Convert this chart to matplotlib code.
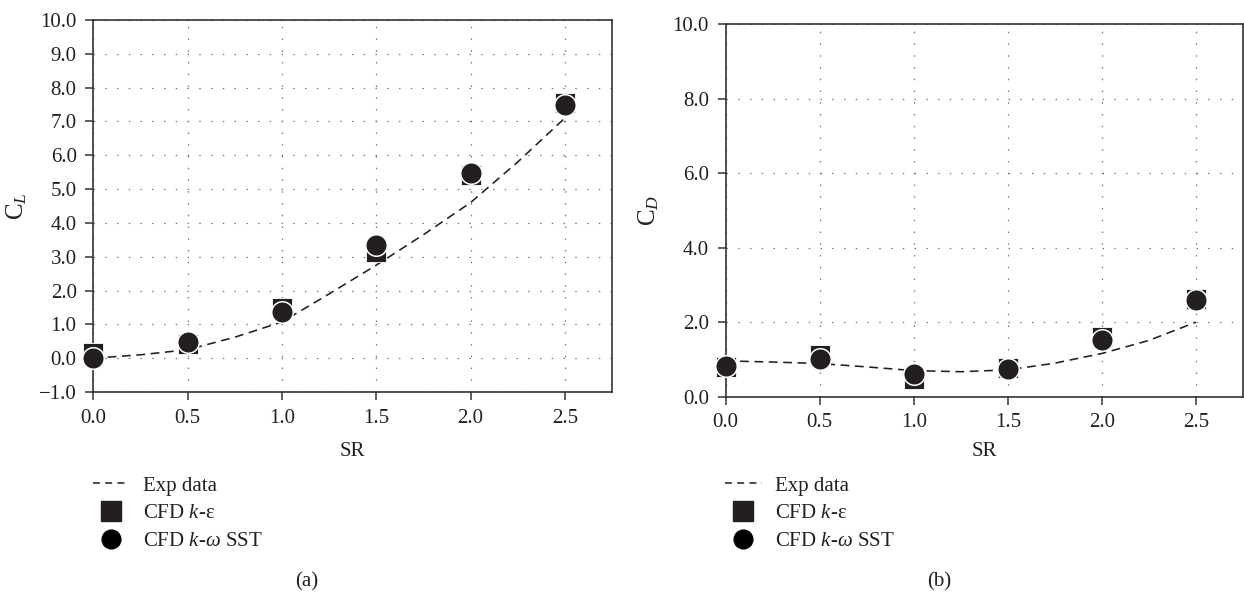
import matplotlib
matplotlib.use("Agg")
import matplotlib.pyplot as plt
from matplotlib.lines import Line2D
import numpy as np

plt.rcParams['font.family'] = ['Liberation Serif', 'DejaVu Serif']
plt.rcParams['mathtext.fontset'] = 'custom'
plt.rcParams['mathtext.rm'] = 'Liberation Serif'
plt.rcParams['mathtext.it'] = 'Liberation Serif:italic'
plt.rcParams['mathtext.bf'] = 'Liberation Serif:bold'

# ---------------- data ----------------
sr_points = [0.0, 0.5, 1.0, 1.5, 2.0, 2.5]
sr_exp = [0.0, 0.25, 0.5, 0.75, 1.0, 1.25, 1.5, 1.75, 2.0, 2.25, 2.5]

cl_exp = [0.0, 0.1, 0.25, 0.62, 1.07, 1.9, 2.75, 3.65, 4.6, 5.8, 7.1]
cl_ke = [0.15, 0.42, 1.48, 3.15, 5.42, 7.55]
cl_kw = [0.0, 0.47, 1.38, 3.35, 5.47, 7.5]

cd_exp = [0.96, 0.93, 0.89, 0.80, 0.70, 0.67, 0.72, 0.90, 1.16, 1.51, 2.0]
cd_ke = [0.80, 1.13, 0.48, 0.77, 1.60, 2.63]
cd_kw = [0.82, 1.00, 0.62, 0.75, 1.53, 2.59]

x_ticks = [0.0, 0.5, 1.0, 1.5, 2.0, 2.5]
cl_ticks = [-1, 0, 1, 2, 3, 4, 5, 6, 7, 8, 9, 10]
cd_ticks = [0, 2, 4, 6, 8, 10]

labels = ["Exp data", r"CFD $k$-ε", r"CFD $k$-$\omega$ SST"]
ylabels = [r"C$_{L}$", r"C$_{D}$"]
captions = ["(a)", "(b)"]

# ---------------- figure ----------------
W, H = 1244, 596
fig = plt.figure(figsize=(W / 100, H / 100), dpi=100)

dark = '#231f20'
FS = 15


def fx(px):
    return px / W


def fy(py):
    return 1 - py / H


axes_px = [(93.3, 20.0, 612.0, 392.0), (725.7, 24.0, 1243.0, 396.7)]
ylims = [(-1, 10), (0, 10)]
yticks_list = [cl_ticks, cd_ticks]
exp_list = [cl_exp, cd_exp]
ke_list = [cl_ke, cd_ke]
kw_list = [cl_kw, cd_kw]

for i in range(2):
    x0, y0, x1, y1 = axes_px[i]
    ax = fig.add_axes([fx(x0), fy(y1), (x1 - x0) / W, (y1 - y0) / H])
    ax.set_xlim(0, 2.75)
    ax.set_ylim(*ylims[i])
    ax.set_xticks(x_ticks)
    ax.set_xticklabels([f"{v:.1f}" for v in x_ticks])
    ax.set_yticks(yticks_list[i])
    ax.set_yticklabels([f"{v:.1f}".replace('-', '\u2212') for v in yticks_list[i]])
    ax.tick_params(axis='both', direction='out', length=6, width=1.1,
                   color='#333333', labelsize=FS, labelcolor='#231f20', pad=6)
    for s in ax.spines.values():
        s.set_color('#333333')
        s.set_linewidth(1.2)
    ax.grid(True, color='#777777', linewidth=0.9, linestyle=(0, (1.2, 8.2)))
    ax.set_axisbelow(True)

    ax.plot(sr_exp, exp_list[i], linestyle=(0, (5.5, 3.5)), color=dark,
            linewidth=1.15, zorder=3, clip_on=False)
    ax.plot(sr_points, ke_list[i], linestyle='none', marker='s', markersize=15,
            markerfacecolor=dark, markeredgecolor='white', markeredgewidth=0.6,
            zorder=4, clip_on=False)
    ax.plot(sr_points, kw_list[i], linestyle='none', marker='o', markersize=15.5,
            markerfacecolor=dark, markeredgecolor='white', markeredgewidth=1.1,
            zorder=5, clip_on=False)

    ax.set_ylabel(ylabels[i], fontsize=18, color=dark)
    ax.yaxis.set_label_coords((16.7 + (x0 - 93.3) - x0) / (x1 - x0), 0.5,
                              transform=ax.transAxes)
    ax.yaxis.label.set_verticalalignment('center')

    fig.text(fx((x0 + x1) / 2), fy(451), "SR", fontsize=FS, color=dark,
             ha='center', va='center')
    fig.text(fx(306.7 + (x0 - 93.3)), fy(582), captions[i], fontsize=FS,
             color=dark, ha='center', va='center')

    handles = [
        Line2D([], [], linestyle=(0, (4.5, 3.5)), color=dark, linewidth=1.1),
        Line2D([], [], linestyle='none', marker='s', markersize=15,
               markerfacecolor=dark, markeredgecolor=dark),
        Line2D([], [], linestyle='none', marker='o', markersize=13.5,
               markerfacecolor='black', markeredgecolor='black'),
    ]
    leg = fig.legend(handles, labels, loc='upper left',
                     bbox_to_anchor=(fx(x0 - 0.6), fy(476)),
                     bbox_transform=fig.transFigure, frameon=False,
                     fontsize=FS, handlelength=1.75, handletextpad=0.65,
                     borderpad=0, borderaxespad=0, labelspacing=0.4)
    for t in leg.get_texts():
        t.set_color(dark)

fig.savefig("out.png", dpi=100)
